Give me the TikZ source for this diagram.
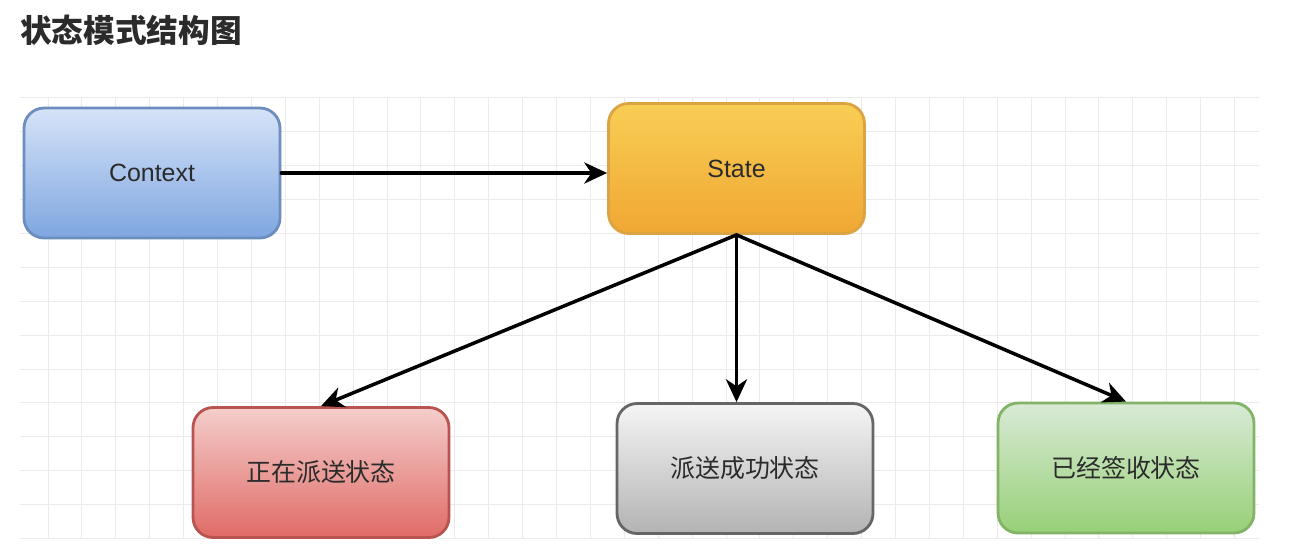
\documentclass[tikz,border=0pt]{standalone}
\usepackage{fontspec}
\setmainfont{Liberation Sans}
\newfontfamily\cjk{Noto Sans CJK SC}
\usetikzlibrary{arrows.meta}
\definecolor{gridgray}{HTML}{EBEBEB}
\definecolor{textgray}{HTML}{2B2B2B}
\definecolor{blueline}{HTML}{6C8EBF}
\definecolor{bluetop}{HTML}{D6E3F8}
\definecolor{bluebot}{HTML}{7EA6E0}
\definecolor{orangeline}{HTML}{D9A441}
\definecolor{orangetop}{HTML}{F8CE55}
\definecolor{orangebot}{HTML}{F0A733}
\definecolor{redline}{HTML}{B85450}
\definecolor{redtop}{HTML}{F4CECB}
\definecolor{redbot}{HTML}{E06B67}
\definecolor{grayline}{HTML}{666666}
\definecolor{graytop}{HTML}{F5F5F5}
\definecolor{graybot}{HTML}{B3B3B3}
\definecolor{greenline}{HTML}{82B366}
\definecolor{greentop}{HTML}{D8EAD6}
\definecolor{greenbot}{HTML}{97D077}
\begin{document}
\begin{tikzpicture}[x=0.02cm,y=-0.02cm, line join=round, line cap=round,
	>={Stealth[length=13pt,width=12pt,inset=4pt]},
	gridline/.style={draw=gridgray, line width=0.5pt},
	box/.style={draw, line width=1.6pt, rounded corners=0.4cm, minimum width=5.12cm, minimum height=2.6cm, inner sep=0pt, text=textgray, font=\fontsize{14.2}{16}\selectfont},
	link/.style={->, line width=2pt}]
	\useasboundingbox (0,0) rectangle (1294,556);
	\node[anchor=west, inner sep=0pt, text=textgray, font=\cjk\bfseries\fontsize{18}{20}\selectfont] (title) at (20,30) {状态模式结构图};
	\begin{scope}
		\clip (20,97) rectangle (1259,538);
		\foreach \x in {0,...,35}{
			\draw[gridline] (48+33.9*\x,97) -- (48+33.9*\x,538);}
		\foreach \y in {-1,0,...,12}{
			\draw[gridline] (20,131.7+33.9*\y) -- (1259,131.7+33.9*\y);}
	\end{scope}
	\node[box, draw=blueline, top color=bluetop, bottom color=bluebot] (context) at (152,173) {Context};
	\node[box, draw=orangeline, top color=orangetop, bottom color=orangebot] (state) at (736.5,168.5) {State};
	\node[box, draw=redline, top color=redtop, bottom color=redbot] (sending) at (321,472.5) {\cjk 正在派送状态};
	\node[box, draw=grayline, top color=graytop, bottom color=graybot] (delivered) at (745,468.5) {\cjk 派送成功状态};
	\node[box, draw=greenline, top color=greentop, bottom color=greenbot] (signed) at (1126,468) {\cjk 已经签收状态};
	\draw[link] (context.east) -- (context.east -| state.west);
	\draw[link] (state.south) -- (sending.north);
	\draw[link] (state.south) -- (state.south |- delivered.north);
	\draw[link] (state.south) -- (signed.north);
\end{tikzpicture}
\end{document}
